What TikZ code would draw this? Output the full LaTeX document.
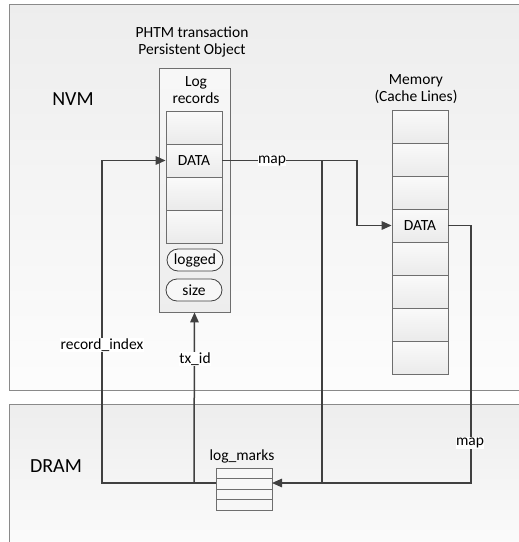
\documentclass[tikz,border=0pt]{standalone}
\usepackage{fontspec}
\setmainfont{Carlito}
\usetikzlibrary{arrows.meta,shapes.misc}
\definecolor{lineC}{HTML}{404040}
\definecolor{borderC}{HTML}{6E6E6E}
\definecolor{regionB}{HTML}{8A8A8A}
\begin{document}
\begin{tikzpicture}[x=1pt,y=-1pt,
  txt/.style={font=\fontsize{15.5}{17}\selectfont, inner sep=1pt, align=center},
  big/.style={font=\fontsize{20}{22}\selectfont, inner sep=0pt},
  region/.style={draw=regionB, line width=1pt, top color=white!93!black, bottom color=white!99!black},
  cell/.style={draw=borderC, line width=0.8pt, top color=white!98!black, bottom color=white!92!black,
    minimum width=56pt, minimum height=33pt, inner sep=0pt, font=\fontsize{15.5}{17}\selectfont},
  outer/.style={draw=borderC, line width=0.8pt, top color=white!97!black, bottom color=white!93!black,
    minimum width=71pt, minimum height=244pt, inner sep=0pt},
  pill/.style={draw=lineC, line width=0.8pt, fill=white!97!black, rounded rectangle,
    minimum width=56pt, minimum height=22pt, inner sep=0pt, font=\fontsize{15.5}{17}\selectfont},
  markrow/.style={draw=borderC, line width=0.8pt, fill=white!97!black, minimum width=56pt,
    minimum height=10.5pt, inner sep=0pt},
  conn/.style={draw=lineC, line width=1.5pt},
  arr/.style={conn, -{Triangle[length=10pt,width=8.5pt]}},
  lab/.style={txt, fill=white, inner sep=0.5pt}
]
\clip (0,0) rectangle (519,542);
% regions
\path[region] (9,4) rectangle (530,390);
\path[region] (9,404) rectangle (530,560);
\node[big] (nvm) at (73,99) {NVM};
\node[big] (dram) at (56,466) {DRAM};
% PHTM object
\node[txt] (phtmlab) at (192,42) {PHTM transaction\\Persistent Object};
\node[outer] (phtm) at (194.5,190) {};
\node[txt] (loglab) at (196,90) {Log\\records};
\node[cell] (lc1) at (194,127.5) {};
\node[cell] (lc2) at (194,160.5) {DATA};
\node[cell] (lc3) at (194,193.5) {};
\node[cell] (lc4) at (194,226.5) {};
\node[pill] (logged) at (195,260) {logged};
\node[pill] (size) at (194,290) {size};
% memory
\node[txt] (memlab) at (416,89) {Memory\\(Cache Lines)};
\node[cell] (m1) at (420,126.5) {};
\node[cell] (m2) at (420,159.5) {};
\node[cell] (m3) at (420,192.5) {};
\node[cell] (m4) at (420,225.5) {DATA};
\node[cell] (m5) at (420,258.5) {};
\node[cell] (m6) at (420,291.5) {};
\node[cell] (m7) at (420,324.5) {};
\node[cell] (m8) at (420,357.5) {};
% log marks
\node[txt] (lmlab) at (242,456) {log\_marks};
\node[markrow] (lm1) at (244,473.25) {};
\node[markrow] (lm2) at (244,483.75) {};
\node[markrow] (lm3) at (244,494.25) {};
\node[markrow] (lm4) at (244,504.75) {};
% connector coordinates
\coordinate (jmap) at (322,160.5);
\coordinate (jlow) at (322,483);
\coordinate (bend1) at (357,160.5);
\coordinate (bend2) at (357,225.5);
\coordinate (r1) at (471,225.5);
\coordinate (r2) at (471,483);
\coordinate (lmE) at (272,483);
\coordinate (lmW) at (216,483);
\coordinate (l1) at (102,483);
\coordinate (l2) at (102,160.5);
\coordinate (tx0) at (194,483);
% connectors
\draw[arr] (lc2.east) -- (bend1) -- (bend2) -- (m4.west);
\draw[conn] (jmap) -- (jlow);
\draw[arr] (m4.east) -- (r1) -- (r2) -- (lmE);
\draw[arr] (lmW) -- (l1) -- (l2) -- (lc2.west);
\draw[arr] (tx0) -- (phtm.south);
% labels
\node[lab] (map1) at (272,160.5) {map};
\node[lab] (map2) at (470,443) {map};
\node[lab] (ri) at (102,345) {record\_index};
\node[lab] (tx) at (195,359) {tx\_id};
\end{tikzpicture}
\end{document}
